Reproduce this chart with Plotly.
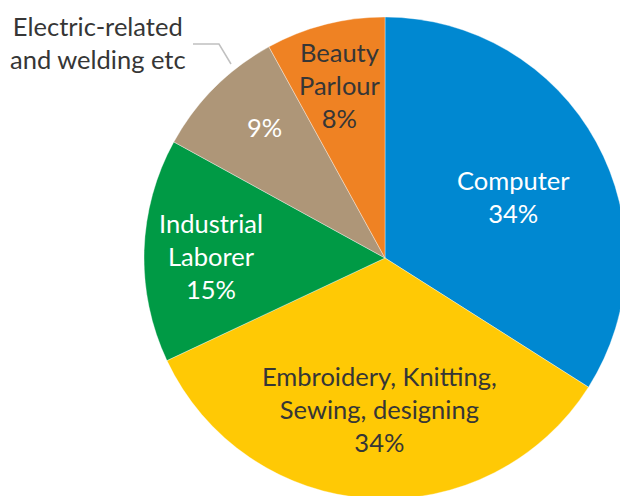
import math
import plotly.graph_objects as go

# Training trades and their share of participants
categories = ["Computer", "Embroidery, Knitting,<br>Sewing, designing", "Industrial<br>Laborer",
              "Electric-related<br>and welding etc", "Beauty<br>Parlour"]
shares = [34, 34, 15, 9, 8]

colors = ["#0088D1", "#FFC905", "#009A45", "#AE9678", "#EF8223"]
text_colors = ["#FFFFFF", "#363636", "#FFFFFF", "#FFFFFF", "#363636"]
# radial placement of each inside label (fraction of radius, angular nudge in degrees)
label_frac = [0.59, 0.625, 0.72, 0.74, 0.74]
label_nudge = [3.0, -1.6, -1.1, 2.5, -0.3]
inside_name = [True, True, True, False, True]

W, H = 626, 500
CX, CY, R = 385, 258, 241
FONT = "Lato"
FS = 25.5

fig = go.Figure(go.Pie(
    labels=[c.replace("<br>", " ") for c in categories],
    values=shares,
    sort=False,
    direction="clockwise",
    rotation=0,
    marker=dict(colors=colors, line=dict(color="rgba(255,255,255,0.6)", width=0.6)),
    textinfo="none",
    hoverinfo="skip",
    showlegend=False,
    domain=dict(x=[(CX - R) / W, (CX + R) / W], y=[1 - (CY + R) / H, 1 - (CY - R) / H]),
))

total = sum(shares)
annotations = []
cum = 0
for i, v in enumerate(shares):
    mid = (cum + v / 2) / total * 360 + label_nudge[i]
    cum += v
    r = R * label_frac[i]
    px = CX + r * math.sin(math.radians(mid))
    py = CY - r * math.cos(math.radians(mid))
    pct = f"{round(v / total * 100)}%"
    text = f"{categories[i]}<br>{pct}" if inside_name[i] else pct
    annotations.append(dict(
        x=px / W, y=1 - py / H, xref="paper", yref="paper",
        text=text, showarrow=False, xanchor="center", yanchor="middle",
        align="center", font=dict(family=FONT, size=FS, color=text_colors[i]),
    ))

# outside label for the small electrical slice, with a leader line
annotations.append(dict(
    x=98 / W, y=1 - 43 / H, xref="paper", yref="paper",
    text=categories[3], showarrow=False, xanchor="center", yanchor="middle",
    align="center", font=dict(family=FONT, size=FS, color="#363636"),
))

fig.update_layout(
    width=W, height=H,
    margin=dict(l=0, r=0, t=0, b=0),
    paper_bgcolor="white",
    plot_bgcolor="white",
    annotations=annotations,
    shapes=[dict(
        type="path", xref="paper", yref="paper",
        path=f"M {193 / W},{1 - 44 / H} L {219 / W},{1 - 44 / H} L {231 / W},{1 - 64 / H}",
        line=dict(color="#C0C0C0", width=1.5),
    )],
)

fig.write_html(
    "out.html",
    post_script="document.documentElement.style.overflow='hidden';document.body.style.overflow='hidden';",
)
